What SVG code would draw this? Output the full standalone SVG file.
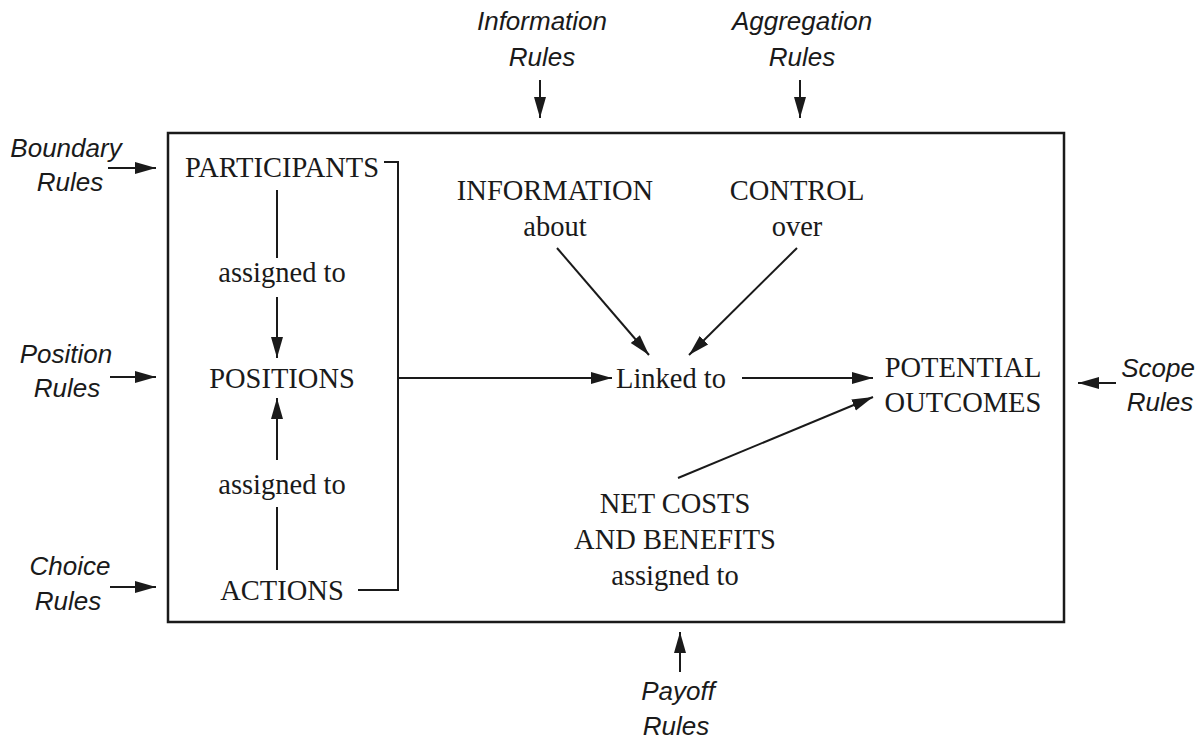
<svg xmlns="http://www.w3.org/2000/svg" width="1200" height="747" viewBox="0 0 1200 747">
<style>
.r{font-family:"Liberation Sans",Arial,sans-serif;font-style:italic;font-size:26px;fill:#1a1a1a;text-anchor:middle}
.t{font-family:"Liberation Serif","Times New Roman",serif;font-size:28.5px;fill:#1a1a1a;text-anchor:middle}
.l{stroke:#1a1a1a;stroke-width:2;fill:none}
.a{stroke:#1a1a1a;stroke-width:2;fill:none;marker-end:url(#ah)}
</style>
<defs>
<marker id="ah" markerUnits="userSpaceOnUse" markerWidth="24" markerHeight="14" refX="21" refY="7" orient="auto">
<path d="M0,1 L21,7 L0,13 Z" fill="#1a1a1a"/>
</marker>
</defs>
<rect width="1200" height="747" fill="#fff"/>
<g id="frame"><rect x="168" y="133" width="896" height="489" fill="none" stroke="#1a1a1a" stroke-width="2.5"/></g>

<g id="information-rules"><text class="r" x="542" y="30">Information</text><text class="r" x="542" y="66">Rules</text></g>
<g id="aggregation-rules"><text class="r" x="802" y="30">Aggregation</text><text class="r" x="802" y="66">Rules</text></g>
<g id="boundary-rules"><text class="r" x="66" y="157">Boundary</text><text class="r" x="70" y="191">Rules</text></g>
<g id="position-rules"><text class="r" x="66" y="363">Position</text><text class="r" x="67" y="397">Rules</text></g>
<g id="choice-rules"><text class="r" x="70" y="575">Choice</text><text class="r" x="68" y="610">Rules</text></g>
<g id="scope-rules"><text class="r" x="1158" y="377">Scope</text><text class="r" x="1160" y="411">Rules</text></g>
<g id="payoff-rules"><text class="r" x="678" y="700">Payoff</text><text class="r" x="676" y="735">Rules</text></g>

<g id="participants"><text class="t" x="282" y="177">PARTICIPANTS</text></g>
<g id="assigned1"><text class="t" x="282" y="282">assigned to</text></g>
<g id="positions"><text class="t" x="282" y="388">POSITIONS</text></g>
<g id="assigned2"><text class="t" x="282" y="494">assigned to</text></g>
<g id="actions"><text class="t" x="282" y="600">ACTIONS</text></g>
<g id="information"><text class="t" x="555" y="200">INFORMATION</text><text class="t" x="555" y="236">about</text></g>
<g id="control"><text class="t" x="797" y="200">CONTROL</text><text class="t" x="797" y="236">over</text></g>
<g id="linked"><text class="t" x="671" y="388">Linked to</text></g>
<g id="outcomes"><text class="t" x="963" y="377">POTENTIAL</text><text class="t" x="963" y="412">OUTCOMES</text></g>
<g id="costs"><text class="t" x="675" y="513">NET COSTS</text><text class="t" x="675" y="549">AND BENEFITS</text><text class="t" x="675" y="585">assigned to</text></g>

<g id="connectors">
<line class="a" x1="540" y1="80" x2="540" y2="118"/>
<line class="a" x1="800" y1="80" x2="800" y2="118"/>
<line class="a" x1="108" y1="168" x2="156" y2="168"/>
<line class="a" x1="110" y1="377" x2="156" y2="377"/>
<line class="a" x1="110" y1="587" x2="156" y2="587"/>
<line class="a" x1="1116" y1="383" x2="1078" y2="383"/>
<line class="a" x1="680" y1="672" x2="680" y2="632"/>
<polyline class="l" points="384,162 398,162 398,590 358,590"/>
<line class="l" x1="277" y1="190" x2="277" y2="258"/>
<line class="a" x1="277" y1="297" x2="277" y2="358"/>
<line class="a" x1="277" y1="460" x2="277" y2="398"/>
<line class="l" x1="277" y1="507" x2="277" y2="570"/>
<line class="a" x1="398" y1="378" x2="612" y2="378"/>
<line class="a" x1="557" y1="248" x2="649" y2="355"/>
<line class="a" x1="797" y1="248" x2="689" y2="355"/>
<line class="a" x1="742" y1="378" x2="873" y2="378"/>
<line class="a" x1="678" y1="478" x2="873" y2="397"/>
</g>
</svg>
